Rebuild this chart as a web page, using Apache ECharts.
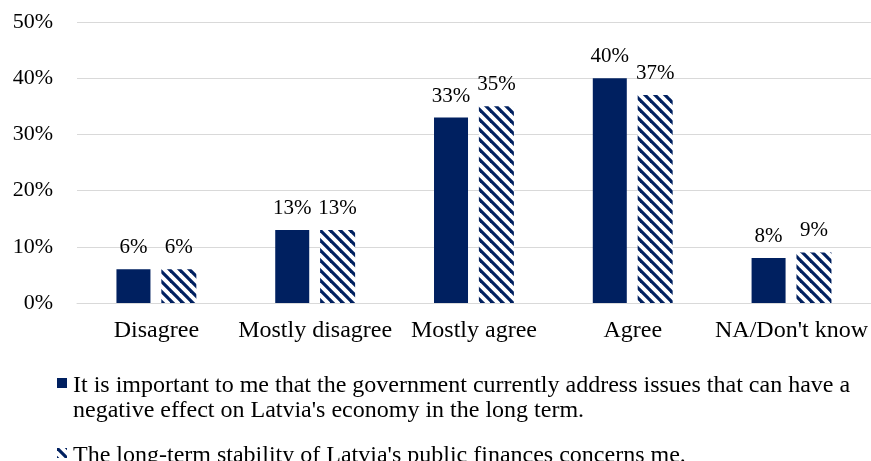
<!DOCTYPE html>
<html>
<head>
<meta charset="utf-8">
<script src="https://cdn.jsdelivr.net/npm/echarts@6/dist/echarts.min.js"></script>
<style>
  html, body { margin: 0; padding: 0; background: #fff; }
  #chart { width: 871px; height: 461px; }
</style>
</head>
<body>
<div id="chart"></div>
<script>
// Survey answers and shares (percent)
const categories = ['Disagree', 'Mostly disagree', 'Mostly agree', 'Agree', "NA/Don't know"];
const seriesNames = [
  "It is important to me that the government currently address issues that can have a\nnegative effect on Latvia's economy in the long term.",
  "The long-term stability of Latvia's public finances concerns me."
];
const importantValues = [6, 13, 33, 40, 8];
const concernValues = [6, 13, 35, 37, 9];
const yTicks = [0, 10, 20, 30, 40, 50];

const NAVY = '#002060';
const FONT = '"Liberation Serif", "Times New Roman", serif';

// Wide downward diagonal hatch
function makeHatch() {
  const size = 10;
  const c = document.createElement('canvas');
  c.width = size; c.height = size;
  const ctx = c.getContext('2d');
  ctx.fillStyle = '#ffffff';
  ctx.fillRect(0, 0, size, size);
  ctx.strokeStyle = NAVY;
  ctx.lineWidth = 3.2;
  ctx.lineCap = 'square';
  for (let k = -1; k <= 1; k++) {
    ctx.beginPath();
    ctx.moveTo(k * size, 0);
    ctx.lineTo(k * size + size, size);
    ctx.stroke();
  }
  return c;
}
const hatch = { image: makeHatch(), repeat: 'repeat' };

const chart = echarts.init(document.getElementById('chart'), null, { renderer: 'canvas' });

const labelStyle = {
  show: true,
  position: 'top',
  distance: 11,
  formatter: p => p.value + '%',
  fontFamily: FONT,
  fontSize: 21,
  color: '#000'
};

const legendText = { fontFamily: FONT, fontSize: 24, fill: '#000', lineHeight: 25, verticalAlign: 'top' };

chart.setOption({
  animation: false,
  backgroundColor: '#fff',
  grid: { left: 77, right: 0, top: 22, bottom: 158 },
  xAxis: {
    type: 'category',
    data: categories,
    axisLine: { show: true, lineStyle: { color: '#d9d9d9', width: 1 } },
    axisTick: { show: false },
    axisLabel: { fontFamily: FONT, fontSize: 24, color: '#000', margin: 16, interval: 0 }
  },
  yAxis: {
    type: 'value',
    min: yTicks[0],
    max: yTicks[yTicks.length - 1],
    interval: 10,
    axisLine: { show: false },
    axisTick: { show: false },
    splitLine: { lineStyle: { color: '#d9d9d9', width: 1 } },
    axisLabel: { formatter: '{value}%', fontFamily: FONT, fontSize: 22, color: '#000', margin: 24 }
  },
  // Legend below the plot: square markers with wrapped captions
  graphic: [
    { type: 'rect', left: 57, top: 378, shape: { width: 10, height: 10 }, style: { fill: NAVY } },
    { type: 'text', left: 73, top: 373, style: Object.assign({ text: seriesNames[0] }, legendText) },
    { type: 'rect', left: 57, top: 448, shape: { width: 10, height: 10 }, style: { fill: hatch } },
    { type: 'text', left: 73, top: 443, style: Object.assign({ text: seriesNames[1] }, legendText) }
  ],
  series: [
    {
      name: seriesNames[0],
      type: 'bar',
      data: importantValues,
      barWidth: 34,
      barGap: '32%',
      itemStyle: { color: NAVY },
      label: labelStyle
    },
    {
      name: seriesNames[1],
      type: 'bar',
      data: concernValues,
      barWidth: 35,
      itemStyle: { color: hatch },
      label: labelStyle
    }
  ]
});
</script>
</body>
</html>
